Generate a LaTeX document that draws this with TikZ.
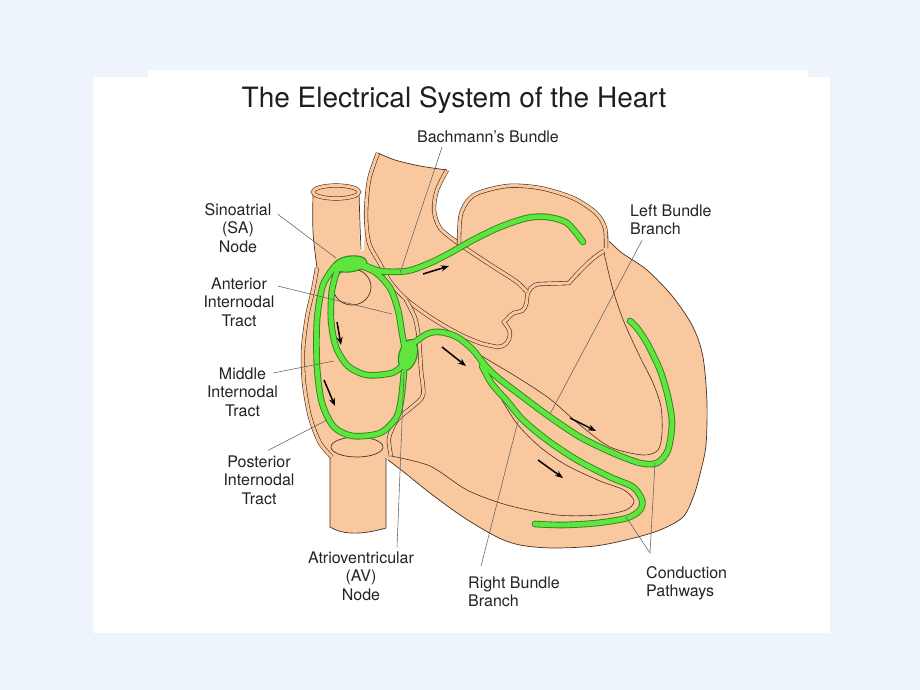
\documentclass[tikz,border=0pt]{standalone}
\usepackage{fontspec}
\setmainfont{TeX Gyre Heros}
\usetikzlibrary{arrows.meta}

\definecolor{bgblue}{RGB}{237,244,252}
\definecolor{peach}{RGB}{249,200,158}
\definecolor{outline}{RGB}{72,48,34}
\definecolor{tractgreen}{RGB}{96,228,62}
\definecolor{tractedge}{RGB}{38,138,30}
\definecolor{labeltext}{RGB}{35,35,35}

% the conduction pathways, drawn twice (dark edge, then green core)
\newcommand{\pathways}{%
  plot[smooth] coordinates {(360,263) (380,271) (407,271) (430,263) (450,253) (473,240) (500,227) (527,218) (547,217) (567,223) (583,242)}
  plot[smooth] coordinates {(358,265) (375,272) (390,288) (398,310) (402,333) (405,350)}
  plot[smooth] coordinates {(338,268) (332,290) (331,320) (336,347) (348,366) (367,375) (392,373) (403,365)}
  plot[smooth] coordinates {(335,266) (323,285) (317,320) (317,367) (322,403) (334,427) (353,436) (380,433) (396,418) (401,400) (404,372)}
  plot[smooth] coordinates {(411,345) (427,334) (440,332) (457,337) (473,350) (484,364) (497,377) (523,397) (550,417) (580,437) (613,453) (640,463) (657,463) (668,450) (672,423) (668,397) (660,370) (647,343) (637,328) (630,321)}
  plot[smooth] coordinates {(482,366) (492,384) (507,401) (523,420) (547,440) (577,460) (610,477) (633,487) (642,500) (640,510) (627,518) (597,523) (563,525) (535,524)}%
}

\tikzset{
  wall/.style={draw=outline, line width=0.6pt, double=peach, double distance=3pt},
  rim/.style={draw=outline, line width=0.7pt},
  leader/.style={draw=black!62, line width=0.55pt},
  flow/.style={-{Stealth[length=8pt,width=6pt]}, line width=1.5pt},
  tag/.style={font=\fontsize{16}{18.4}\selectfont, text=labeltext, inner sep=0pt, align=center},
}

\begin{document}
\begin{tikzpicture}[x=1pt, y=-1pt]
\useasboundingbox (0,0) rectangle (920,690);
\fill[bgblue] (0,0) rectangle (920,690);
\fill[white] (93,77) rectangle (830,633);
\fill[white] (148,70) rectangle (808,78);

% heart body
\fill[peach] plot[smooth] coordinates {(378,153) (395,160) (420,166) (447,170)}
  -- plot[smooth] coordinates {(447,170) (437,190) (434,210) (440,228) (458,242)}
  -- plot[smooth] coordinates {(458,242) (460,214) (473,194) (507,185) (540,187) (573,197) (597,213) (607,227) (609,241)}
  -- plot[smooth] coordinates {(609,241) (622,253) (647,270) (673,297) (693,327) (703,357) (707,403) (706,445) (701,470) (694,495) (683,517) (660,530) (630,539) (595,546) (552,548) (520,545) (497,537) (463,517) (430,493) (405,473) (388,460)}
  -- (331,458)
  -- plot[smooth] coordinates {(331,458) (320,443) (310,417) (304,383) (303,350) (307,317) (313,290) (317,268)}
  -- (364,250)
  -- plot[smooth] coordinates {(364,250) (366,215) (369,180) (378,153)} -- cycle;
\draw[rim] plot[smooth] coordinates {(609,241) (622,253) (647,270) (673,297) (693,327) (703,357) (707,403) (706,445) (701,470) (694,495) (683,517) (660,530) (630,539) (595,546) (552,548) (520,545) (497,537) (463,517) (430,493) (405,473) (388,460)};

% inferior vena cava
\fill[peach] (330,452) -- (330,527) .. controls (345,536) and (365,534) .. (386,528) -- (386,452) -- cycle;
\draw[rim] (330,455) -- (330,527) .. controls (345,536) and (365,534) .. (386,528) -- (386,458);

% superior vena cava
\fill[peach] (313,192) -- (313,232) -- (317,270) -- (360,256) -- (359,192) -- cycle;
\draw[rim] plot[smooth] coordinates {(313,192) (313,232) (317,268)};
\draw[rim] plot[smooth] coordinates {(359,192) (360,225) (361,250)};
\draw[wall, fill=peach] (336,192) ellipse [x radius=23, y radius=6.5];

% walls
\draw[wall] plot[smooth] coordinates {(317,268) (313,290) (307,317) (303,350) (304,383) (310,417) (320,443) (332,457)};
\draw[wall] plot[smooth] coordinates {(378,153) (369,180) (366,215) (369,243) (379,262) (391,283) (407,300) (430,317) (457,333) (480,343) (498,347)}
  to[out=0,in=-90] (510,334) to[out=90,in=-60] (504,322) to[out=40,in=180] (518,312)
  to[out=0,in=-90] (527,298) to[out=90,in=180] (540,284) -- (569,283)
  to[out=50,in=-135] (585,266) to[out=45,in=-150] (604,251);
\draw[wall] plot[smooth] coordinates {(447,170) (437,190) (434,210) (440,228) (458,243) (480,258) (500,271) (517,282) (527,292)};
\draw[wall] plot[smooth] coordinates {(459,245) (461,214) (474,195) (507,186) (540,188) (573,198) (596,213) (605,228) (606,248)};
\draw[wall] plot[smooth] coordinates {(406,300) (415,318) (419,340) (421,370) (423,395) (412,407) (397,420) (389,438) (391,456)};

% thin inner lines
\draw[rim] plot[smooth] coordinates {(378,153) (395,160) (420,166) (447,170)};
\draw[rim] (352,287) ellipse [x radius=19, y radius=18];
\draw[rim] (357,447) ellipse [x radius=26, y radius=10];
\draw[rim, line width=0.6pt] plot[smooth] coordinates {(604,253) (613,290) (624,322) (640,357) (653,383) (661,407) (662,433) (658,450) (643,455) (610,447) (580,425) (550,399) (520,379) (490,361) (470,349)};
\draw[rim, line width=0.6pt] plot[smooth] coordinates {(391,456) (430,466) (467,490) (507,505) (557,515) (600,515) (626,510) (634,501) (624,490) (600,481) (566,465) (540,447) (518,425) (503,402) (488,376)};

% conduction pathways and nodes
\draw[tractedge, line width=6.6pt, line cap=round, line join=round] \pathways;
\fill[tractedge, rotate around={8:(350,264)}] (350,264) ellipse [x radius=17.5, y radius=8.5];
\fill[tractedge, rotate around={-15:(408,355)}] (408,355) ellipse [x radius=9.5, y radius=16.5];
\draw[tractgreen, line width=4.8pt, line cap=round, line join=round] \pathways;
\fill[tractgreen, rotate around={8:(350,264)}] (350,264) ellipse [x radius=16.3, y radius=7.3];
\fill[tractgreen, rotate around={-15:(408,355)}] (408,355) ellipse [x radius=8.3, y radius=15.3];

% impulse arrows
\draw[flow] (423,274) -- (449,266);
\draw[flow] (337,322) -- (341,345);
\draw[flow] (324,380) -- (335,406);
\draw[flow] (442,347) -- (466,366);
\draw[flow] (570,418) -- (596,431);
\draw[flow] (538,460) -- (563,478);

% labels
\node[font=\fontsize{28}{32}\selectfont, text=black!88, anchor=base] (title) at (454,108) {The Electrical System of the Heart};
\node[tag] (sinoatrial) at (238,228) {Sinoatrial\\(SA)\\Node};
\node[tag] (bachmann) at (488,137) {Bachmann's Bundle};
\node[tag, align=left, anchor=west] (leftbundle) at (630,220) {Left Bundle\\Branch};
\node[tag] (anterior) at (239,302) {Anterior\\Internodal\\Tract};
\node[tag] (middle) at (242.5,392) {Middle\\Internodal\\Tract};
\node[tag] (posterior) at (259,480) {Posterior\\Internodal\\Tract};
\node[tag] (avnode) at (361,576) {Atrioventricular\\(AV)\\Node};
\node[tag, align=left, anchor=west] (rightbundle) at (468,591.5) {Right Bundle\\Branch};
\node[tag, align=left, anchor=west] (conduction) at (646,583) {Conduction\\Pathways};

% leader targets
\coordinate (saTip) at (336,258);
\coordinate (bbTip) at (400,273);
\coordinate (lbbTip) at (550,414);
\coordinate (antTip) at (392,314);
\coordinate (midTip) at (334,361);
\coordinate (postTip) at (327,420);
\coordinate (avTip) at (404,372);
\coordinate (rbbTip) at (518,421);
\coordinate (cpLeft) at (655,463);
\coordinate (cpRight) at (626,517);
\coordinate (cpFork) at ([xshift=4pt,yshift=13pt]conduction.north west);

\draw[leader] ([xshift=6pt,yshift=14pt]sinoatrial.east) -- (saTip);
\draw[leader] ([xshift=-46pt,yshift=-4pt]bachmann.south) -- (bbTip);
\draw[leader] ([xshift=12pt,yshift=-5pt]leftbundle.south west) -- (lbbTip);
\draw[leader] ([xshift=3pt,yshift=16pt]anterior.east) -- (antTip);
\draw[leader] ([xshift=-5pt,yshift=19pt]middle.east) -- (midTip);
\draw[leader] ([xshift=9pt,yshift=5pt]posterior.north) -- (postTip);
\draw[leader] ([xshift=36pt,yshift=4pt]avnode.north) -- (avTip);
\draw[leader] ([xshift=13pt,yshift=10pt]rightbundle.north west) -- (rbbTip);
\draw[leader] (cpLeft) -- (cpFork) -- (cpRight);
\end{tikzpicture}
\end{document}
